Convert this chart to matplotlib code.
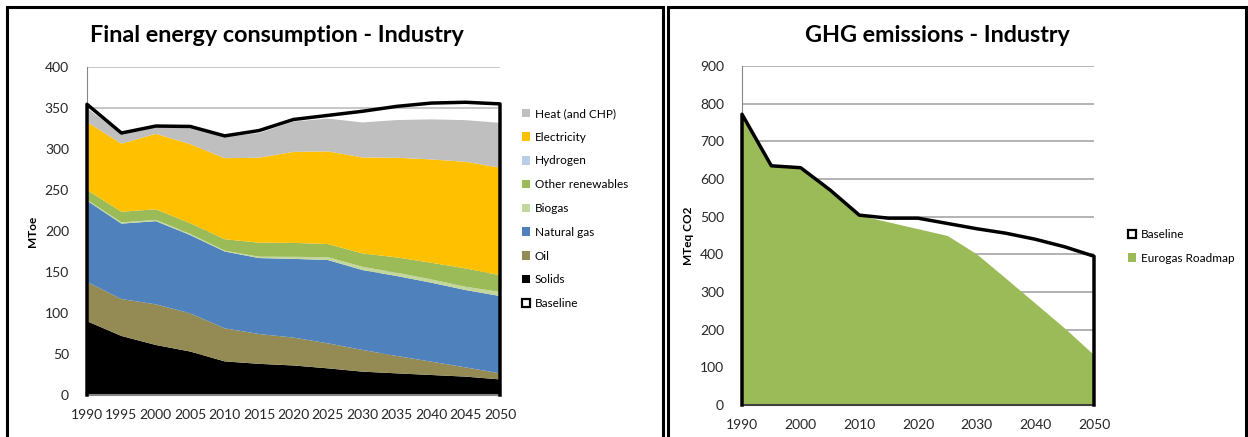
import matplotlib
matplotlib.use("Agg")
import matplotlib.pyplot as plt
from matplotlib.patches import Patch, Rectangle

plt.rcParams['font.family'] = ['Lato', 'DejaVu Sans']

# ---------------- data ----------------
years = [1990, 1995, 2000, 2005, 2010, 2015, 2020, 2025, 2030, 2035, 2040, 2045, 2050]

solids = [90, 72, 61, 53, 41, 38, 36, 32.5, 28.5, 26.4, 24.4, 22.4, 19]
oil = [48, 45, 49.6, 46.6, 40.3, 36.4, 34, 30.5, 26.5, 21.2, 16.3, 11.3, 7.4]
natural_gas = [99, 92, 101.4, 95.4, 93.7, 92.6, 96, 101.6, 97.4, 97.5, 96.3, 94.3, 94.3]
biogas = [1, 1.5, 1.5, 1.5, 1, 1.7, 2.5, 3.5, 4, 4, 4, 4, 5]
other_renewables = [12, 13, 13, 13, 14, 17, 17, 16, 16.3, 18.7, 20.3, 22.4, 20.3]
hydrogen = [0, 0, 0, 0, 0, 0, 0, 0, 0, 0, 0, 0, 0]
electricity = [83, 83, 92, 96.4, 98.8, 103.7, 111, 113, 117, 121.5, 126, 130, 131.3]
heat = [17, 11.5, 9, 21.3, 26, 30, 37, 40, 42.7, 46, 48.8, 50.8, 54.6]
baseline_energy = [354.5, 319.5, 328, 327.5, 316, 322.5, 336, 341, 346, 352, 356, 357, 355]

energy_labels = ["Solids", "Oil", "Natural gas", "Biogas", "Other renewables",
                 "Hydrogen", "Electricity", "Heat (and CHP)"]
energy_colors = ["#000000", "#948A54", "#4F81BD", "#C3D69B", "#9BBB59",
                 "#B9CDE5", "#FFC000", "#BFBFBF"]

ghg_years = [1990, 1995, 2000, 2005, 2010, 2015, 2020, 2025, 2030, 2035, 2040, 2045, 2050]
ghg_baseline = [772, 635, 630, 571, 504, 496, 496, 482, 468, 456, 440, 420, 395]
ghg_roadmap = [772, 635, 630, 571, 504, 486, 468, 450, 401, 336, 270, 204, 133]

# ---------------- figure ----------------
W, H = 1248, 437
fig = plt.figure(figsize=(W / 100, H / 100), dpi=100)

def fx(px):
    return px / W

def fy(py):
    return 1 - py / H

# panel frames
fig.patches.append(Rectangle((fx(7), fy(445)), fx(663 - 7), (445 - 7) / H,
                             transform=fig.transFigure, fill=False,
                             edgecolor="black", linewidth=2.2))
fig.patches.append(Rectangle((fx(668), fy(445)), fx(1246 - 668), (445 - 7) / H,
                             transform=fig.transFigure, fill=False,
                             edgecolor="black", linewidth=2.2))

tick_color = "#262626"
tick_fs = 10
grid_color = "#BDBDBD"
axis_color = "#868686"
title_fs = 16.8

# ---------------- left chart ----------------
ax1 = fig.add_axes([fx(87), fy(395), fx(500 - 87), (395 - 67) / H])
polys = ax1.stackplot(years, solids, oil, natural_gas, biogas, other_renewables,
                      hydrogen, electricity, heat, colors=energy_colors,
                      labels=energy_labels, linewidth=0, zorder=2)
bx = [years[0]] + years + [years[-1]]
by = [0] + baseline_energy + [0]
ax1.plot(bx, by, color="black", linewidth=2.5, zorder=4,
         solid_joinstyle="round", clip_on=False)
ax1.set_xlim(1990, 2050)
ax1.set_ylim(0, 400)
ax1.set_xticks(years)
ax1.set_yticks(range(0, 401, 50))
ax1.yaxis.grid(True, color=grid_color, linewidth=1.2, zorder=0)
ax1.set_axisbelow(True)
for s in ["top", "right"]:
    ax1.spines[s].set_visible(False)
ax1.spines["left"].set_color(axis_color)
ax1.spines["bottom"].set_color(axis_color)
ax1.spines["bottom"].set_linewidth(1.5)
ax1.tick_params(axis="both", length=0, labelsize=tick_fs, colors=tick_color)
ax1.tick_params(axis="y", pad=13)
ax1.tick_params(axis="x", pad=10)
ax1.set_ylabel("MToe", fontsize=8.5, fontweight="bold", labelpad=5)
fig.text(fx(277), fy(36), "Final energy consumption - Industry", ha="center",
         va="center", fontsize=title_fs, fontweight="bold")

handles = [Patch(facecolor=c, edgecolor="none") for c in energy_colors][::-1]
labels = energy_labels[::-1]
handles.append(Patch(facecolor="white", edgecolor="black", linewidth=1.6))
labels.append("Baseline")
fig.legend(handles, labels, loc="upper left",
           bbox_to_anchor=(fx(522), fy(108)), frameon=False, fontsize=8.5,
           labelspacing=1.08, handlelength=0.7, handleheight=0.7,
           handletextpad=0.4, borderpad=0, borderaxespad=0)

# ---------------- right chart ----------------
ax2 = fig.add_axes([fx(742), fy(405), fx(1094 - 742), (405 - 66) / H])
ax2.fill_between(ghg_years, 0, ghg_roadmap, color="#9BBB59", linewidth=0,
                 zorder=2, label="Eurogas Roadmap")
gx = [ghg_years[0]] + ghg_years + [ghg_years[-1]]
gy = [0] + ghg_baseline + [0]
ax2.plot(gx, gy, color="black", linewidth=2.5, zorder=4, clip_on=False,
         solid_joinstyle="round")
ax2.set_xlim(1990, 2050)
ax2.set_ylim(0, 900)
ax2.set_xticks(range(1990, 2051, 10))
ax2.set_yticks(range(0, 901, 100))
ax2.yaxis.grid(True, color="#A6A6A6", linewidth=1.2, zorder=0)
ax2.set_axisbelow(True)
for s in ["top", "right"]:
    ax2.spines[s].set_visible(False)
ax2.spines["left"].set_color(axis_color)
ax2.spines["bottom"].set_color("#404040")
ax2.spines["bottom"].set_linewidth(1.5)
ax2.tick_params(axis="both", length=0, labelsize=tick_fs, colors=tick_color)
ax2.tick_params(axis="y", pad=13)
ax2.tick_params(axis="x", pad=10)
ax2.set_ylabel("MTeq CO2", fontsize=8.5, fontweight="bold", labelpad=4)
fig.text(fx(937), fy(35), "GHG emissions - Industry", ha="center",
         va="center", fontsize=title_fs, fontweight="bold")

h2 = [Patch(facecolor="white", edgecolor="black", linewidth=1.6),
      Patch(facecolor="#9BBB59", edgecolor="none")]
fig.legend(h2, ["Baseline", "Eurogas Roadmap"], loc="upper left",
           bbox_to_anchor=(fx(1128), fy(229)), frameon=False, fontsize=8.5,
           labelspacing=1.08, handlelength=0.7, handleheight=0.7,
           handletextpad=0.4, borderpad=0, borderaxespad=0)

fig.savefig("out.png", dpi=100)
